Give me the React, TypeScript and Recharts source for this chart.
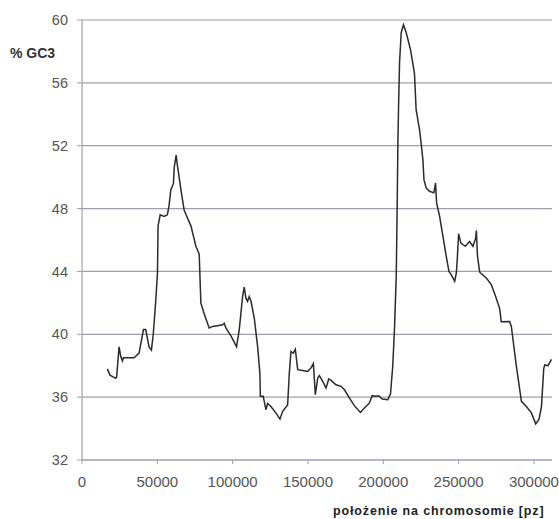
import { CartesianGrid, Line, LineChart, XAxis, YAxis } from "recharts";

// position along the chromosome (bp) and GC3 content (%)
const positions = [
  16800, 18600, 22400, 23000, 24600, 25700, 26800, 27500, 34600, 37900,
  40800, 42300, 44500, 46100, 47400, 49000, 50100, 50500, 51900, 54500,
  56700, 57800, 59000, 60700, 61200, 62500, 63400, 66000, 67800, 70000,
  72300, 75600, 77800, 78900, 81100, 84400, 86700, 90000, 93300, 94400,
  95500, 98900, 102600, 104400, 106600, 107700, 108800, 109900, 111000, 112200,
  114400, 116600, 118100, 118400, 120300, 122100, 123200, 125400, 128700, 131400,
  133200, 136500, 137600, 138700, 140300, 141600, 143200, 146500, 149800, 152000,
  153600, 154900, 156500, 157600, 159800, 162000, 163800, 165300, 168600, 172000,
  174200, 177500, 180800, 184800, 187500, 190800, 192600, 194800, 197000, 199300,
  203000, 204800, 206300, 207500, 208600, 209200, 209700, 210100, 210800, 211900,
  213400, 215200, 218100, 220700, 221800, 224100, 225600, 226300, 227000, 228500,
  230700, 233600, 234700, 235400, 237400, 239600, 241800, 243600, 245100, 247400,
  248500, 249100, 250000, 251500, 254500, 257300, 259500, 261300, 261800, 262500,
  264000, 268400, 271700, 274600, 277300, 278300, 283900, 285000, 288300, 291700,
  295000, 298300, 301200, 303400, 305000, 306500, 307200, 309400, 311600,
];

const gc3 = [
  37.8, 37.4, 37.2, 37.3, 39.2, 38.6, 38.3, 38.5, 38.5, 38.8,
  40.3, 40.3, 39.2, 39.0, 40.1, 42.2, 43.9, 46.9, 47.6, 47.5,
  47.6, 48.2, 49.2, 49.6, 50.6, 51.4, 50.7, 49.0, 47.9, 47.4,
  46.9, 45.6, 45.1, 42.0, 41.3, 40.4, 40.5, 40.55, 40.6, 40.7,
  40.4, 39.9, 39.2, 40.3, 42.4, 43.0, 42.3, 42.1, 42.4, 42.1,
  41.0, 39.2, 37.5, 36.05, 36.05, 35.2, 35.6, 35.4, 35.0, 34.6,
  35.1, 35.5, 37.5, 38.9, 38.8, 39.05, 37.75, 37.7, 37.64, 37.86,
  38.13, 36.16, 37.22, 37.37, 37.0, 36.58, 37.16, 37.07, 36.79, 36.69,
  36.47, 35.95, 35.46, 35.03, 35.31, 35.63, 36.09, 36.05, 36.09, 35.88,
  35.84, 36.2, 38.0, 40.5, 43.7, 47.9, 52.2, 54.3, 57.3, 59.2,
  59.7, 59.2, 58.1, 56.6, 54.3, 53.0, 51.75, 51.1, 49.84, 49.3,
  49.1, 49.0, 49.63, 48.36, 47.5, 46.23, 44.96, 44.0, 43.8, 43.37,
  43.9, 44.75, 46.4, 45.8, 45.6, 45.9, 45.6, 46.1, 46.6, 45.0,
  43.95, 43.58, 43.16, 42.41, 41.62, 40.8, 40.82, 40.5, 38.0, 35.73,
  35.4, 35.0, 34.3, 34.6, 35.4, 37.8, 38.05, 38.0, 38.4,
];

const xTicks = [0, 50000, 100000, 150000, 200000, 250000, 300000];
const yTicks = [32, 36, 40, 44, 48, 52, 56, 60];

const data = positions.map((pos, i) => ({ pos, gc3: gc3[i] }));

const font = "'Liberation Sans', Arial, sans-serif";
const gridColor = "#a59cab";

export default function App() {
  return (
    <div style={{ position: "absolute", left: 0, top: 0, width: 559, height: 519, background: "#fff", overflow: "hidden" }}>
      <LineChart width={559} height={519} data={data} margin={{ top: 20, right: 7, bottom: 29, left: 0 }}>
        <CartesianGrid horizontal vertical={false} stroke={gridColor} strokeWidth={1.2} />
        <XAxis
          type="number"
          dataKey="pos"
          domain={[0, 312000]}
          ticks={xTicks}
          allowDataOverflow
          height={30}
          tickSize={4}
          tickMargin={12}
          axisLine={{ stroke: gridColor, strokeWidth: 1.2 }}
          tickLine={{ stroke: gridColor }}
          tick={{ fill: "#555", fontSize: 15, fontFamily: font }}
          interval={0}
        />
        <YAxis
          type="number"
          domain={[32, 60]}
          ticks={yTicks}
          width={82}
          tickSize={5}
          tickMargin={9}
          axisLine={{ stroke: gridColor, strokeWidth: 1.2 }}
          tickLine={{ stroke: gridColor }}
          tick={{ fill: "#555", fontSize: 14.5, fontFamily: font }}
          interval={0}
        />
        <Line
          type="linear"
          dataKey="gc3"
          stroke="#2b2b2b"
          strokeWidth={1.5}
          dot={false}
          isAnimationActive={false}
        />
      </LineChart>
      <div
        style={{
          position: "absolute",
          left: 10,
          top: 45,
          fontFamily: font,
          fontWeight: "bold",
          fontSize: 14,
          color: "#333",
          whiteSpace: "nowrap",
        }}
      >
        % GC3
      </div>
      <div
        style={{
          position: "absolute",
          left: 333,
          top: 504,
          fontFamily: font,
          fontWeight: "bold",
          fontSize: 12.5,
          letterSpacing: 0.85,
          color: "#222",
          whiteSpace: "nowrap",
        }}
      >
        położenie na chromosomie [pz]
      </div>
    </div>
  );
}
